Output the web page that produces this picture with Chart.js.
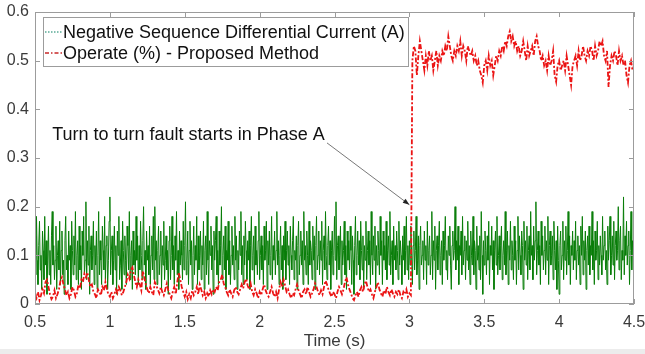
<!DOCTYPE html>
<html>
<head>
<meta charset="utf-8">
<script src="https://cdn.jsdelivr.net/npm/chart.js@4.4.1/dist/chart.umd.min.js"></script>
<style>
  html, body { margin: 0; padding: 0; }
  body { width: 645px; height: 354px; overflow: hidden; background: linear-gradient(to bottom, #fff 349px, #ececec 349px); }
  .wrap { position: relative; width: 645px; height: 354px; }
</style>
</head>
<body>
<div class="wrap"><canvas class="fault-chart" width="645" height="354"></canvas></div>
<script>
// time axis
const tStart = 0.5;
const tEnd = 4.5;
const faultTime = 3.02;
const operateStep = 0.01;

const xTickValues = [0.5, 1, 1.5, 2, 2.5, 3, 3.5, 4, 4.5];
const yTickValues = [0, 0.1, 0.2, 0.3, 0.4, 0.5, 0.6];

const seriesNames = ['Negative Sequence Differential Current (A)', 'Operate (%) - Proposed Method'];

// negative sequence differential current, sampled every 5 ms from 0.5 s to 4.5 s
const currentValues = [
    0.14,0.06,0.18,0.09,0.04,0.12,0.17,0.07,0.10,0.03,0.15,0.11,0.05,0.18,0.08,0.13,0.02,0.09,0.16,0.06,
    0.11,0.04,0.14,0.19,0.08,0.12,0.05,0.09,0.16,0.03,0.10,0.13,0.07,0.17,0.04,0.11,0.15,0.06,0.09,0.02,
    0.13,0.18,0.07,0.10,0.04,0.15,0.09,0.12,0.03,0.17,0.11,0.06,0.14,0.08,0.19,0.05,0.10,0.13,0.04,0.16,
    0.07,0.12,0.03,0.15,0.10,0.18,0.06,0.09,0.21,0.05,0.13,0.08,0.16,0.02,0.11,0.14,0.07,0.10,0.17,0.04,
    0.12,0.08,0.15,0.03,0.10,0.19,0.06,0.13,0.09,0.04,0.16,0.11,0.07,0.18,0.05,0.12,0.14,0.03,0.09,0.17,
    0.22,0.06,0.11,0.14,0.04,0.09,0.16,0.07,0.12,0.02,0.15,0.10,0.18,0.05,0.08,0.13,0.03,0.17,0.11,0.06,
    0.14,0.09,0.04,0.16,0.12,0.07,0.19,0.05,0.10,0.13,0.03,0.15,0.08,0.11,0.06,0.18,0.09,0.14,0.04,0.12,
    0.07,0.17,0.10,0.05,0.13,0.20,0.08,0.11,0.03,0.15,0.09,0.12,0.06,0.16,0.04,0.10,0.14,0.07,0.18,0.05,
    0.20,0.09,0.13,0.04,0.11,0.16,0.06,0.10,0.15,0.03,0.12,0.08,0.17,0.05,0.09,0.14,0.07,0.11,0.02,0.13,
    0.16,0.05,0.10,0.18,0.07,0.12,0.04,0.14,0.09,0.19,0.06,0.11,0.03,0.15,0.08,0.13,0.10,0.05,0.17,0.07,
    0.12,0.21,0.06,0.09,0.15,0.04,0.11,0.17,0.08,0.13,0.03,0.10,0.16,0.06,0.12,0.09,0.18,0.04,0.14,0.07,
    0.10,0.15,0.05,0.12,0.08,0.17,0.03,0.11,0.14,0.06,0.19,0.09,0.04,0.13,0.10,0.16,0.07,0.12,0.02,0.15,
    0.09,0.13,0.18,0.06,0.11,0.04,0.15,0.08,0.12,0.20,0.05,0.10,0.14,0.07,0.16,0.03,0.11,0.09,0.17,0.06,
    0.13,0.04,0.10,0.16,0.08,0.12,0.05,0.18,0.09,0.14,0.03,0.11,0.07,0.15,0.10,0.19,0.06,0.12,0.04,0.14,
    0.08,0.17,0.11,0.05,0.13,0.09,0.15,0.03,0.12,0.18,0.07,0.10,0.14,0.04,0.16,0.08,0.11,0.06,0.13,0.19,
    0.05,0.10,0.14,0.07,0.12,0.04,0.16,0.09,0.11,0.17,0.03,0.13,0.08,0.15,0.06,0.10,0.18,0.05,0.12,0.09,
    0.15,0.06,0.11,0.19,0.08,0.13,0.04,0.10,0.16,0.07,0.12,0.03,0.14,0.09,0.17,0.05,0.11,0.15,0.08,0.12,
    0.04,0.16,0.10,0.07,0.13,0.18,0.05,0.11,0.09,0.14,0.03,0.12,0.17,0.06,0.10,0.15,0.08,0.13,0.04,0.19,
    0.09,0.12,0.06,0.15,0.10,0.04,0.17,0.08,0.13,0.11,0.05,0.16,0.09,0.14,0.03,0.12,0.18,0.07,0.10,0.15,
    0.06,0.13,0.09,0.17,0.04,0.11,0.14,0.07,0.19,0.10,0.05,0.12,0.16,0.08,0.13,0.03,0.11,0.15,0.06,0.10,
    0.18,0.09,0.21,0.05,0.12,0.14,0.07,0.10,0.16,0.04,0.13,0.08,0.11,0.17,0.06,0.12,0.03,0.15,0.09,0.13,
    0.07,0.16,0.11,0.04,0.14,0.09,0.02,0.12,0.18,0.06,0.10,0.15,0.08,0.13,0.05,0.17,0.11,0.07,0.14,0.03,
    0.12,0.09,0.17,0.05,0.11,0.15,0.08,0.13,0.04,0.19,0.10,0.06,0.14,0.09,0.16,0.03,0.12,0.08,0.15,0.11,
    0.06,0.18,0.10,0.13,0.04,0.15,0.09,0.12,0.07,0.17,0.05,0.11,0.14,0.08,0.19,0.06,0.10,0.13,0.04,0.16,
    0.09,0.12,0.07,0.15,0.11,0.05,0.17,0.08,0.13,0.10,0.04,0.14,0.09,0.16,0.06,0.11,0.18,0.07,0.12,0.05,
    0.13,0.08,0.16,0.10,0.04,0.12,0.15,0.07,0.11,0.18,0.06,0.09,0.14,0.03,0.12,0.16,0.08,0.10,0.13,0.05,
    0.15,0.09,0.12,0.04,0.17,0.08,0.11,0.14,0.06,0.10,0.19,0.05,0.13,0.09,0.16,0.03,0.11,0.14,0.07,0.12,
    0.17,0.06,0.10,0.13,0.04,0.15,0.09,0.12,0.18,0.07,0.11,0.05,0.14,0.10,0.16,0.08,0.03,0.12,0.15,0.09,
    0.11,0.20,0.07,0.13,0.09,0.16,0.04,0.12,0.10,0.15,0.06,0.18,0.08,0.11,0.14,0.05,0.13,0.09,0.17,0.07,
    0.12,0.04,0.15,0.10,0.08,0.18,0.06,0.13,0.11,0.03,0.16,0.09,0.12,0.07,0.14,0.05,0.19,0.10,0.02,0.13,
    0.08,0.15,0.11,0.06,0.14,0.09,0.17,0.04,0.12,0.10,0.16,0.07,0.13,0.03,0.11,0.15,0.08,0.18,0.06,0.10,
    0.14,0.07,0.12,0.16,0.05,0.10,0.13,0.08,0.19,0.06,0.11,0.15,0.04,0.12,0.09,0.17,0.07,0.13,0.10,0.05,
    0.16,0.09,0.13,0.04,0.11,0.18,0.07,0.14,0.10,0.06,0.15,0.12,0.03,0.17,0.09,0.13,0.08,0.16,0.05,0.11,
    0.14,0.07,0.19,0.10,0.12,0.05,0.16,0.09,0.13,0.21,0.06,0.11,0.15,0.08,0.12,0.04,0.17,0.10,0.14,0.07,
    0.11,0.16,0.06,0.13,0.09,0.18,0.04,0.12,0.15,0.08,0.10,0.14,0.05,0.17,0.11,0.07,0.13,0.03,0.16,0.09,
    0.02,0.12,0.15,0.07,0.10,0.17,0.05,0.13,0.09,0.16,0.06,0.11,0.19,0.08,0.14,0.04,0.12,0.10,0.15,0.07,
    0.13,0.09,0.17,0.05,0.11,0.14,0.08,0.12,0.04,0.16,0.10,0.18,0.06,0.13,0.09,0.15,0.03,0.11,0.14,0.08,
    0.16,0.06,0.12,0.10,0.19,0.07,0.13,0.04,0.15,0.09,0.11,0.17,0.05,0.12,0.08,0.14,0.10,0.06,0.18,0.09,
    0.12,0.15,0.07,0.11,0.04,0.16,0.09,0.13,0.18,0.06,0.10,0.14,0.08,0.17,0.05,0.12,0.15,0.09,0.11,0.20,
    0.07,0.13,0.16,0.05,0.11,0.09,0.22,0.06,0.14,0.10,0.17,0.08,0.12,0.15,0.04,0.11,0.19,0.07,0.13,0.10,
    0.12
];

// operate signal before the fault, every 10 ms from 0.50 s to 3.01 s
const operateBefore = [
    0.02,0.012,0.025,0.008,0.018,0.03,0.022,0.045,0.05,0.035,0.02,0.01,0.015,0.028,0.012,0.02,0.03,0.048,0.055,0.04,
    0.03,0.018,0.025,0.012,0.02,0.035,0.028,0.015,0.022,0.04,0.032,0.05,0.045,0.062,0.055,0.065,0.048,0.035,0.04,0.025,
    0.02,0.012,0.03,0.025,0.018,0.035,0.028,0.045,0.03,0.02,0.015,0.025,0.012,0.02,0.03,0.022,0.035,0.028,0.018,0.025,
    0.035,0.045,0.06,0.052,0.07,0.075,0.06,0.045,0.035,0.05,0.04,0.028,0.068,0.055,0.04,0.03,0.022,0.035,0.025,0.018,
    0.045,0.038,0.03,0.022,0.035,0.025,0.018,0.03,0.042,0.028,0.02,0.012,0.025,0.035,0.02,0.045,0.065,0.05,0.035,0.025,
    0.015,0.025,0.01,0.02,0.012,0.028,0.018,0.025,0.035,0.02,0.04,0.03,0.018,0.025,0.012,0.022,0.015,0.028,0.02,0.03,
    0.025,0.035,0.028,0.045,0.05,0.06,0.042,0.035,0.025,0.018,0.03,0.022,0.015,0.028,0.035,0.025,0.02,0.03,0.04,0.032,
    0.045,0.052,0.038,0.03,0.042,0.025,0.018,0.03,0.022,0.012,0.025,0.018,0.03,0.04,0.028,0.02,0.015,0.025,0.035,0.022,
    0.015,0.025,0.012,0.03,0.045,0.035,0.05,0.038,0.025,0.03,0.02,0.012,0.022,0.018,0.03,0.04,0.028,0.02,0.012,0.025,
    0.03,0.02,0.035,0.025,0.015,0.022,0.03,0.042,0.035,0.025,0.018,0.028,0.02,0.035,0.048,0.04,0.03,0.022,0.015,0.025,
    0.02,0.012,0.025,0.035,0.028,0.02,0.03,0.045,0.055,0.04,0.03,0.022,0.012,0.008,0.018,0.025,0.015,0.028,0.035,0.025,
    0.04,0.048,0.035,0.025,0.03,0.02,0.012,0.025,0.035,0.045,0.03,0.022,0.015,0.028,0.02,0.035,0.025,0.018,0.03,0.022,
    0.015,0.025,0.02,0.03,0.018,0.012,0.025,0.02,0.03,0.015,0.022,0.018
];

// operate signal after the fault, every 10 ms from 3.02 s to 4.50 s
const operateAfter = [
    0.50,0.53,0.52,0.47,0.51,0.54,0.52,0.50,0.48,0.51,0.49,0.52,0.50,0.51,0.48,0.50,0.52,0.49,0.51,0.50,
    0.52,0.51,0.53,0.52,0.55,0.53,0.51,0.50,0.52,0.51,0.53,0.52,0.54,0.51,0.53,0.52,0.50,0.53,0.52,0.51,
    0.52,0.50,0.51,0.49,0.50,0.48,0.47,0.455,0.49,0.50,0.48,0.51,0.49,0.50,0.47,0.49,0.51,0.50,0.52,0.51,
    0.53,0.52,0.54,0.53,0.55,0.56,0.54,0.55,0.53,0.54,0.52,0.53,0.51,0.52,0.54,0.52,0.50,0.53,0.51,0.52,
    0.53,0.51,0.54,0.55,0.53,0.52,0.50,0.51,0.49,0.50,0.48,0.51,0.49,0.50,0.52,0.47,0.457,0.49,0.50,0.48,
    0.49,0.50,0.48,0.51,0.49,0.47,0.45,0.49,0.50,0.51,0.49,0.52,0.50,0.51,0.53,0.51,0.50,0.52,0.51,0.53,
    0.52,0.50,0.53,0.51,0.52,0.54,0.53,0.54,0.51,0.50,0.52,0.446,0.49,0.51,0.50,0.52,0.51,0.49,0.52,0.50,
    0.51,0.49,0.50,0.47,0.455,0.49,0.50,0.48,0.49
];

// annotation text and where its arrow points (data units)
const noteText = 'Turn to turn fault starts in Phase A';
const noteAt = { x: 0.615, y: 0.347 };
const arrowFrom = { x: 2.45, y: 0.331 };
const arrowTo = { x: 3.0, y: 0.204 };

const spread = (values, t0, t1) => values.map((v, i) => ({ x: t0 + i * (t1 - t0) / (values.length - 1), y: v }));
const stepped = (values, t0) => values.map((v, i) => ({ x: +(t0 + i * operateStep).toFixed(2), y: v }));

const fmt = v => String(+(+v).toFixed(1));
const axisColor = '#9c9c9c';
const textColor = '#3a3a3a';
const fontFamily = '"Liberation Sans", Arial, sans-serif';

// MATLAB style box with inward ticks
const boxAxes = {
    id: 'boxAxes',
    afterDraw(chart) {
        const { ctx, chartArea: a, scales: { x, y } } = chart;
        ctx.save();
        ctx.strokeStyle = axisColor;
        ctx.lineWidth = 1;
        ctx.strokeRect(a.left + 0.5, a.top + 0.5, a.right - a.left - 1, a.bottom - a.top - 1);
        ctx.beginPath();
        xTickValues.forEach(v => {
            const px = Math.round(x.getPixelForValue(v)) + 0.5;
            ctx.moveTo(px, a.bottom); ctx.lineTo(px, a.bottom - 5);
            ctx.moveTo(px, a.top); ctx.lineTo(px, a.top + 5);
        });
        yTickValues.forEach(v => {
            const py = Math.round(y.getPixelForValue(v)) + 0.5;
            ctx.moveTo(a.left, py); ctx.lineTo(a.left + 5, py);
            ctx.moveTo(a.right, py); ctx.lineTo(a.right - 5, py);
        });
        ctx.stroke();
        ctx.restore();
    }
};

// legend box in the top left corner of the axes
const boxLegend = {
    id: 'boxLegend',
    afterDraw(chart) {
        const { ctx, chartArea: a } = chart;
        const ds = chart.data.datasets;
        const left = a.left + 8, top = a.top + 5, w = 365, h = 49;
        ctx.save();
        ctx.fillStyle = '#fff';
        ctx.fillRect(left, top, w, h);
        ctx.strokeStyle = axisColor;
        ctx.lineWidth = 1;
        ctx.strokeRect(left + 0.5, top + 0.5, w, h);
        ctx.font = '18px ' + fontFamily;
        ctx.textBaseline = 'middle';
        ctx.fillStyle = '#111';
        [ds[0], ds[1]].forEach((d, i) => {
            const cy = top + 15 + i * 21;
            ctx.beginPath();
            ctx.strokeStyle = d.legendColor;
            ctx.lineWidth = 1.5;
            ctx.setLineDash(d.legendDash);
            ctx.moveTo(left + 2, cy);
            ctx.lineTo(left + 19, cy);
            ctx.stroke();
            ctx.setLineDash([]);
            ctx.fillText(d.label, left + 20, cy + 1);
        });
        ctx.restore();
    }
};

// text note with an arrow to the fault instant
const faultNote = {
    id: 'faultNote',
    afterDatasetsDraw(chart) {
        const { ctx, scales: { x, y } } = chart;
        ctx.save();
        ctx.font = '18px ' + fontFamily;
        ctx.fillStyle = '#111';
        ctx.textBaseline = 'middle';
        ctx.fillText(noteText, x.getPixelForValue(noteAt.x), y.getPixelForValue(noteAt.y));
        const x0 = x.getPixelForValue(arrowFrom.x), y0 = y.getPixelForValue(arrowFrom.y);
        const x1 = x.getPixelForValue(arrowTo.x), y1 = y.getPixelForValue(arrowTo.y);
        const ang = Math.atan2(y1 - y0, x1 - x0);
        ctx.strokeStyle = '#555';
        ctx.lineWidth = 0.8;
        ctx.beginPath();
        ctx.moveTo(x0, y0);
        ctx.lineTo(x1, y1);
        ctx.stroke();
        ctx.fillStyle = '#222';
        ctx.beginPath();
        ctx.moveTo(x1, y1);
        ctx.lineTo(x1 - 7 * Math.cos(ang - 0.35), y1 - 7 * Math.sin(ang - 0.35));
        ctx.lineTo(x1 - 7 * Math.cos(ang + 0.35), y1 - 7 * Math.sin(ang + 0.35));
        ctx.closePath();
        ctx.fill();
        ctx.restore();
    }
};

const ctx = document.querySelector('.fault-chart').getContext('2d');

new Chart(ctx, {
    type: 'line',
    data: {
        datasets: [{
            label: seriesNames[0],
            data: spread(currentValues, tStart, tEnd),
            borderColor: 'rgb(8,125,8)',
            legendColor: 'rgb(90,170,150)',
            legendDash: [1.5, 1.5],
            borderWidth: 1,
            pointRadius: 0,
            tension: 0,
            order: 2
        }, {
            label: seriesNames[1],
            data: stepped(operateBefore, tStart).concat(stepped(operateAfter, faultTime)),
            borderColor: 'rgb(235,20,20)',
            legendColor: 'rgb(200,40,40)',
            legendDash: [4, 2, 1.5, 2],
            borderWidth: 1.8,
            borderDash: [5, 2, 2, 2],
            pointRadius: 0,
            tension: 0,
            order: 1
        }]
    },
    options: {
        responsive: false,
        animation: false,
        layout: {
            padding: { top: 12, right: 11, left: 0, bottom: 0 }
        },
        scales: {
            x: {
                type: 'linear',
                min: tStart,
                max: tEnd,
                afterBuildTicks: s => { s.ticks = xTickValues.map(v => ({ value: v })); },
                afterFit: s => { s.height = 50; s.paddingLeft = 0; s.paddingRight = 0; },
                grid: { drawOnChartArea: false, drawTicks: false },
                border: { display: false },
                ticks: {
                    callback: fmt,
                    color: textColor,
                    padding: 9,
                    maxRotation: 0,
                    font: { family: fontFamily, size: 16 }
                },
                title: {
                    display: true,
                    text: 'Time (s)',
                    color: textColor,
                    padding: { top: 0, bottom: 2 },
                    font: { family: fontFamily, size: 17 }
                }
            },
            y: {
                min: 0,
                max: 0.6,
                afterBuildTicks: s => { s.ticks = yTickValues.map(v => ({ value: v })); },
                afterFit: s => { s.width = 35; s.paddingTop = 0; s.paddingBottom = 0; },
                grid: { drawOnChartArea: false, drawTicks: false },
                border: { display: false },
                ticks: {
                    callback: fmt,
                    color: textColor,
                    padding: 6,
                    font: { family: fontFamily, size: 16 }
                }
            }
        },
        plugins: {
            legend: { display: false },
            tooltip: { enabled: false }
        }
    },
    plugins: [boxAxes, boxLegend, faultNote]
});
</script>
</body>
</html>
